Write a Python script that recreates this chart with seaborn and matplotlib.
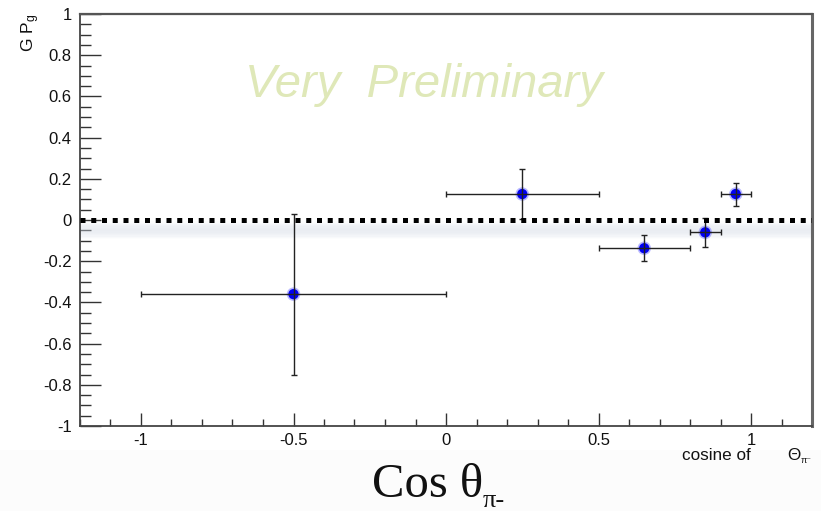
import numpy as np
import pandas as pd
import matplotlib
matplotlib.use("Agg")
import matplotlib.pyplot as plt
from matplotlib.ticker import MultipleLocator, FuncFormatter
from matplotlib.patches import Rectangle
import seaborn as sns

# Measured asymmetry G P_g versus cos(theta) of the pi-
cos_theta = [-0.5, 0.25, 0.65, 0.85, 0.95]
bin_halfwidth = [0.5, 0.25, 0.15, 0.05, 0.05]
gp_g = [-0.36, 0.126, -0.137, -0.06, 0.126]
gp_g_err = [0.39, 0.12, 0.062, 0.071, 0.056]

x_ticks = [-1, -0.5, 0, 0.5, 1]
y_ticks = [-1, -0.8, -0.6, -0.4, -0.2, 0, 0.2, 0.4, 0.6, 0.8, 1]

df = pd.DataFrame({"cos": cos_theta, "gp": gp_g})

sns.set_theme(style="white")
plt.rcParams["font.family"] = ["Liberation Sans", "DejaVu Sans"]
plt.rcParams["axes.unicode_minus"] = False
plt.rcParams["mathtext.fontset"] = "custom"
plt.rcParams["mathtext.rm"] = "Liberation Sans"
plt.rcParams["mathtext.it"] = "Liberation Sans:italic"

fig = plt.figure(figsize=(8.21, 5.11), dpi=100)
fig.patch.set_facecolor("white")
W, H = 821, 511

# faint slide texture under the plot
fig.patches.append(Rectangle((0, 0), 1, 1 - 450 / H, transform=fig.transFigure,
                             facecolor="#fcfcfc", edgecolor="none", zorder=0))

ax = fig.add_axes([80 / W, 1 - 426 / H, (812 - 80) / W, (426 - 14) / H])
ax.set_xlim(-1.2, 1.2)
ax.set_ylim(-1, 1)

# soft shadow under the zero line
n = 14
for i in range(n):
    y0 = -0.006 - i * 0.0062
    alpha = 0.42 * np.sin(np.pi * (i + 0.5) / n)
    ax.axhspan(y0 - 0.0062, y0, color="#cdd6e2", alpha=alpha, lw=0, zorder=1)

ax.axhline(0, color="black", lw=3.6, linestyle=(0, (1, 1.15)),
           dash_capstyle="butt", zorder=5)

# soft halo plus solid core for each point
sns.scatterplot(data=df, x="cos", y="gp", ax=ax, s=95, color="#3a3aff",
                edgecolor="none", alpha=0.35, zorder=3, legend=False)
sns.scatterplot(data=df, x="cos", y="gp", ax=ax, s=55, color="#0000f5",
                edgecolor="none", zorder=3, legend=False)
ax.errorbar(cos_theta, gp_g, xerr=bin_halfwidth, yerr=gp_g_err, fmt="none",
            ecolor="#222222", elinewidth=1.0, capsize=2.3, capthick=1.0, zorder=4)

ax.text((245 - 80) / 732, (426 - 97) / 412, "Very  Preliminary", transform=ax.transAxes,
        fontsize=34, style="italic", color="#dfe8b8", ha="left", va="baseline", zorder=0)

ax.set_xticks(x_ticks)
ax.set_yticks(y_ticks)
fmt = FuncFormatter(lambda v, p: f"{v:g}")
ax.xaxis.set_major_formatter(fmt)
ax.yaxis.set_major_formatter(fmt)
ax.xaxis.set_minor_locator(MultipleLocator(0.1))
ax.yaxis.set_minor_locator(MultipleLocator(0.05))
ax.tick_params(axis="both", which="both", direction="in", colors="#333333",
               bottom=True, left=True, top=False, right=False, labelcolor="#111111")
ax.tick_params(axis="y", which="major", length=15, width=1.0, labelsize=12, pad=6)
ax.tick_params(axis="y", which="minor", length=7.7, width=1.0)
ax.tick_params(axis="x", which="major", length=9.4, width=1.0, labelsize=12, pad=5)
ax.tick_params(axis="x", which="minor", length=5, width=1.0)
ax.set_xlabel("")
ax.set_ylabel("")

for side in ["left", "bottom"]:
    ax.spines[side].set_color("#444444")
    ax.spines[side].set_linewidth(1.3)
ax.spines["top"].set_color("#555555")
ax.spines["top"].set_linewidth(1.6)
ax.spines["right"].set_color("#666666")
ax.spines["right"].set_linewidth(2.2)

fig.text(19 / W, 1 - 14 / H, r"G P$_{\rm g}$", rotation=90, ha="left", va="top",
         fontsize=12.5, color="#111111")
fig.text(682 / W, 1 - 460 / H, "cosine of", ha="left", va="baseline",
         fontsize=12.3, color="#111111")
fig.text(787 / W, 1 - 460 / H, "Θ", ha="left", va="baseline",
         fontsize=12.3, color="#111111")
fig.text(801 / W, 1 - 463 / H, "π⁻", ha="left", va="baseline",
         fontsize=6.5, color="#111111")

fig.text(372 / W, 1 - 497 / H, "Cos θ", ha="left", va="baseline", fontsize=35,
         family=["Liberation Serif", "DejaVu Serif"], color="#111111")
fig.text(483 / W, 1 - 507 / H, "π-", ha="left", va="baseline", fontsize=19,
         family=["Liberation Serif", "DejaVu Serif"], color="#111111")

fig.savefig("out.png", dpi=100)
